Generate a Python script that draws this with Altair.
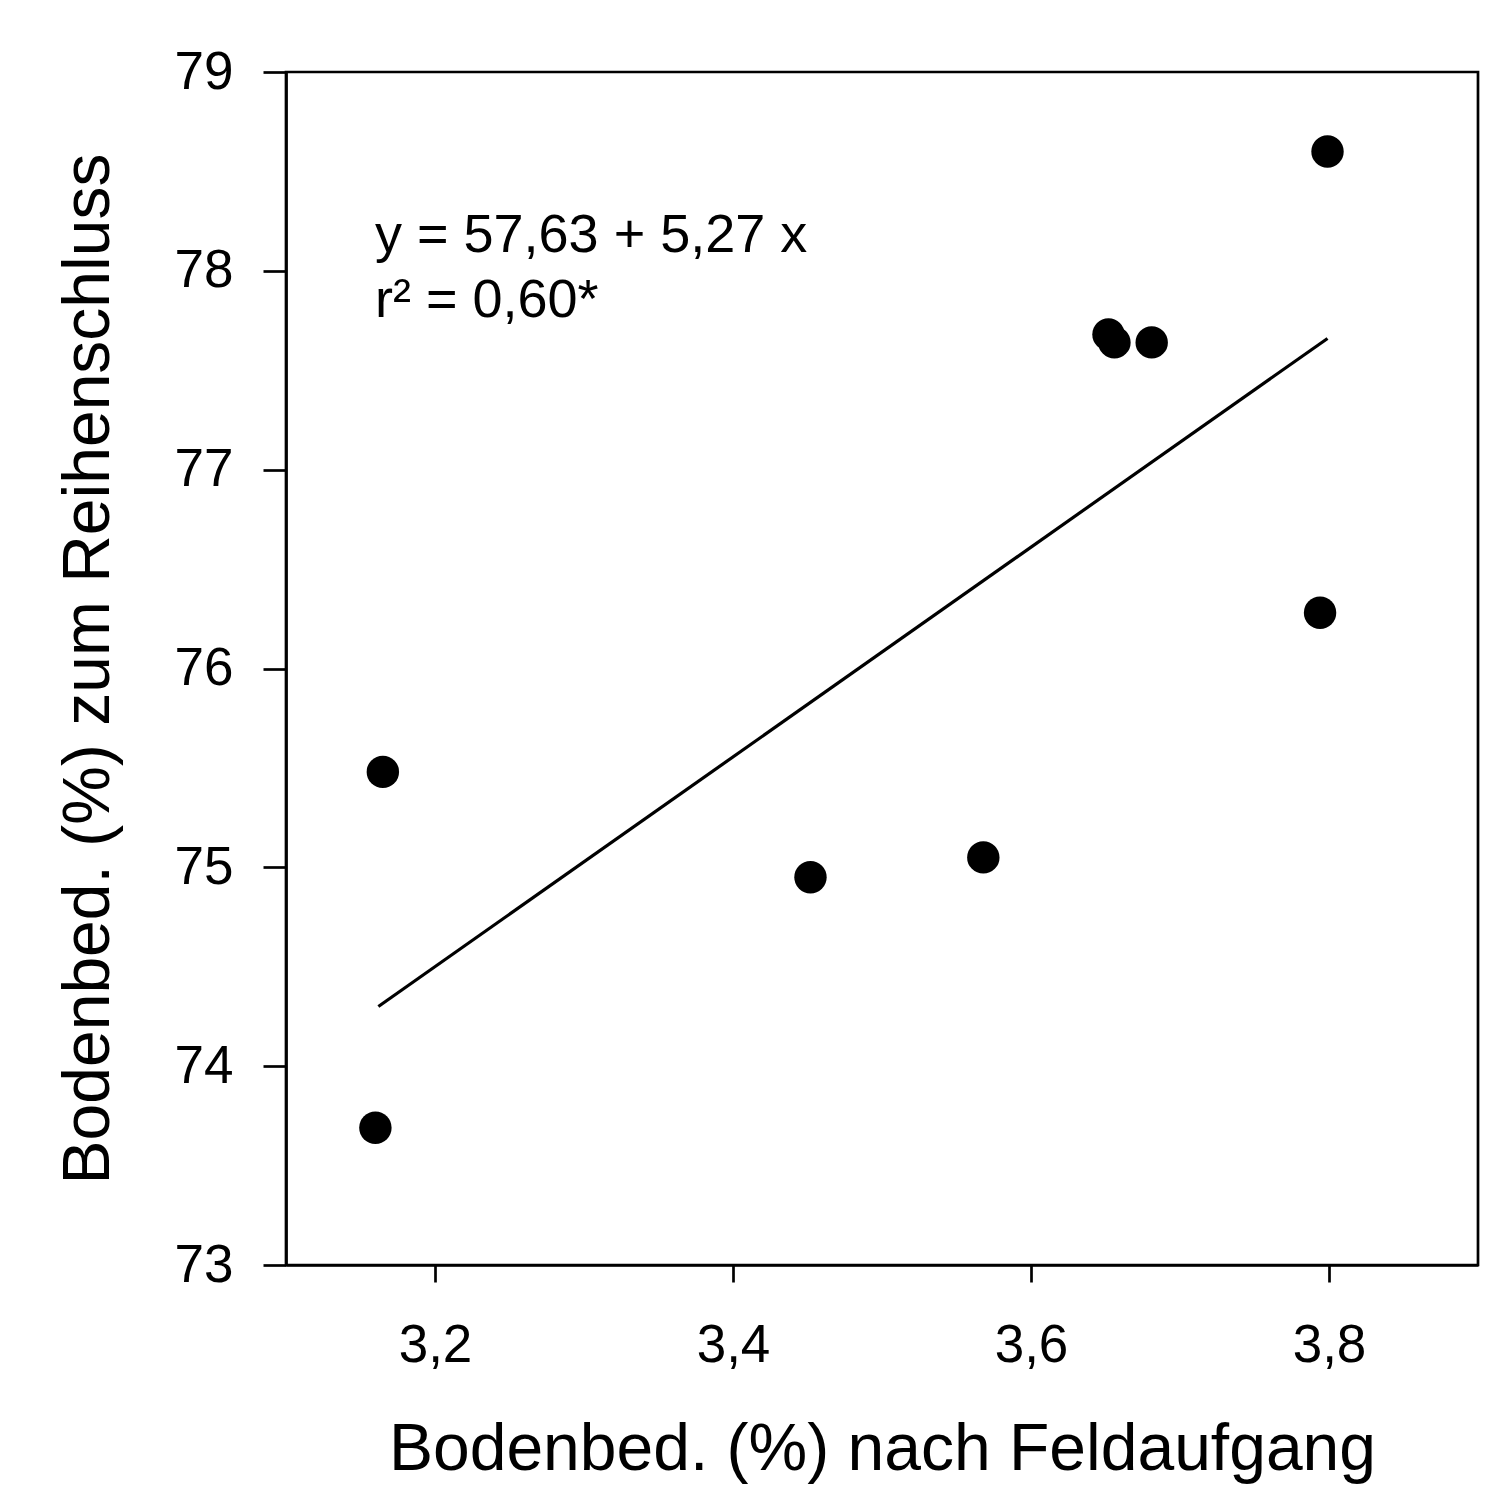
import altair as alt
import pandas as pd

# Data
cover_after_emergence = [3.165, 3.160, 3.452, 3.568, 3.652, 3.656, 3.681, 3.794, 3.799]
cover_row_closure = [75.48, 73.69, 74.95, 75.05, 77.68, 77.64, 77.64, 76.28, 78.60]

fit_x = [3.162, 3.799]
fit_y = [74.30, 77.66]

annot_text = ["y = 57,63 + 5,27 x", "r² = 0,60*"]
annot_x = [3.1597, 3.1597]
annot_y = [78.095, 77.77]

x_ticks = [3.2, 3.4, 3.6, 3.8]
y_ticks = [73, 74, 75, 76, 77, 78, 79]

FONT = "Liberation Sans"

pts = pd.DataFrame({"x": cover_after_emergence, "y": cover_row_closure})
fit = pd.DataFrame({"x": fit_x, "y": fit_y})
ann = pd.DataFrame({"x": annot_x, "y": annot_y, "t": annot_text})

x_scale = alt.Scale(domain=[3.1, 3.9], nice=False, zero=False)
y_scale = alt.Scale(domain=[73, 79], nice=False, zero=False)

x_axis = alt.Axis(
    values=x_ticks,
    labelExpr="replace(format(datum.value, '.1f'), '.', ',')",
    tickSize=17,
    labelFontSize=53,
    labelPadding=37,
    labelFont=FONT,
    labelColor="black",
    title="Bodenbed. (%) nach Feldaufgang",
    titleFontSize=66,
    titleFont=FONT,
    titleFontWeight="normal",
    titleColor="black",
    titleX=596,
    titleY=204,
    titleAlign="center",
    titleBaseline="alphabetic",
    grid=False,
)

y_axis = alt.Axis(
    values=y_ticks,
    format="d",
    tickSize=23,
    labelFontSize=53,
    labelPadding=30,
    labelFont=FONT,
    labelColor="black",
    title="Bodenbed. (%) zum Reihenschluss",
    titleFontSize=66,
    titleFont=FONT,
    titleFontWeight="normal",
    titleColor="black",
    titleX=-178,
    titleY=596.5,
    titleAlign="center",
    titleBaseline="alphabetic",
    grid=False,
)

points = alt.Chart(pts).mark_circle(size=1050, color="black", opacity=1).encode(
    x=alt.X("x:Q", scale=x_scale, axis=x_axis),
    y=alt.Y("y:Q", scale=y_scale, axis=y_axis),
)

line = alt.Chart(fit).mark_line(color="black", strokeWidth=3.2).encode(
    x=alt.X("x:Q", scale=x_scale),
    y=alt.Y("y:Q", scale=y_scale),
)

text = alt.Chart(ann).mark_text(
    align="left", baseline="alphabetic", fontSize=54, font=FONT, color="black"
).encode(
    x=alt.X("x:Q", scale=x_scale),
    y=alt.Y("y:Q", scale=y_scale),
    text="t:N",
)

chart = (
    alt.layer(line, points, text)
    .properties(
        width=1192,
        height=1193,
        padding={"left": 278, "top": 64, "right": 20, "bottom": 220},
        autosize=alt.AutoSizeParams(type="none"),
        background="white",
    )
    .configure_view(stroke="black", strokeWidth=2.7)
    .configure_axis(
        domainColor="black",
        domainWidth=2.7,
        tickColor="black",
        tickWidth=2.7,
    )
)

chart.save("out.html", embed_options={"renderer": "svg", "actions": False})
